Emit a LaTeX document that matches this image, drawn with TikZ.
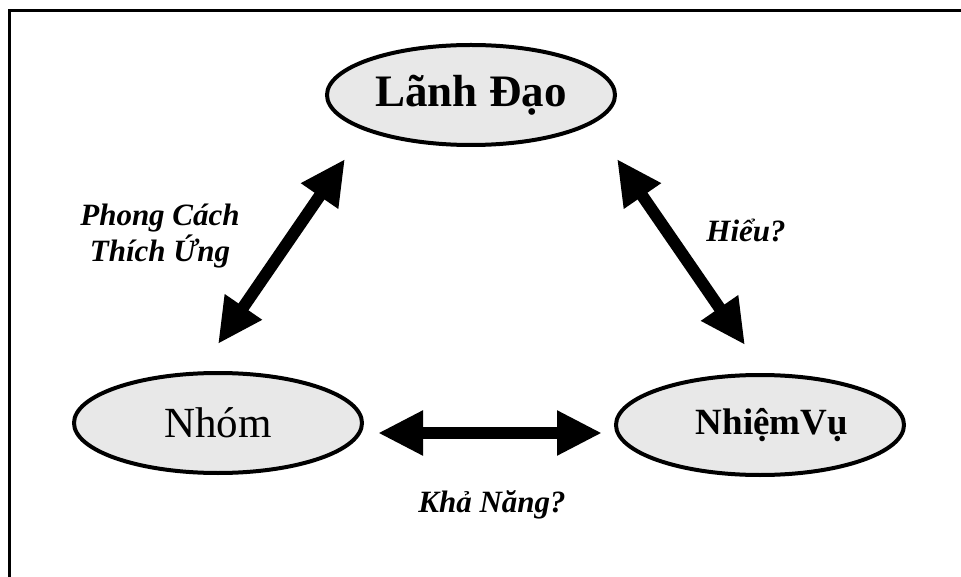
\documentclass[tikz,border=0pt]{standalone}
\usepackage{fontspec}
\setmainfont{Liberation Serif}
\usetikzlibrary{positioning, shapes.geometric, arrows.meta, calc}

\begin{document}
\begin{tikzpicture}[
				x=1pt, y=-1pt,
				role/.style={ellipse, draw, line width=4pt, fill=black!9,
					minimum width=288pt, minimum height=100pt, inner sep=0pt},
				dbl/.style={line width=12pt,
					{Triangle[length=45pt,width=42pt]}-{Triangle[length=45pt,width=42pt]}},
				lbl/.style={font=\fontsize{31}{36}\selectfont\bfseries\itshape, align=center}
				]
				\useasboundingbox (0,0) rectangle (961,577);
				% frame
				\draw[line width=3pt] (9,577) -- (9,11) -- (961,11);
				% the three ellipses
				\node[role, font=\fontsize{45}{50}\selectfont\bfseries] (lanhdao) at (471,95) {Lãnh Đạo};
				\node[role, font=\fontsize{43}{48}\selectfont] (nhom) at (218,423) {Nhóm};
				\node[role, font=\fontsize{37}{42}\selectfont\bfseries] (nhiemvu) at (760,425) {\hspace*{24pt}NhiệmVụ};
				% arrow ends
				\coordinate (l1) at ($(lanhdao.south)+(-126,12)$);
				\coordinate (l2) at ($(nhom.north)+(0,-27)$);
				\coordinate (r1) at ($(lanhdao.south)+(146,12)$);
				\coordinate (r2) at ($(nhiemvu.north)+(-15,-28)$);
				\coordinate (h1) at ($(nhom.east)+(14,10)$);
				\coordinate (h2) at ($(nhiemvu.west)+(-12,8)$);
				\draw[dbl] (l1) -- (l2);
				\draw[dbl] (r1) -- (r2);
				\draw[dbl] (h1) -- (h2);
				% labels
				\node[lbl] (phongcach) at (160,236) {Phong Cách\\Thích Ứng};
				\node[lbl, anchor=base] (hieu) at (746,242) {Hiểu?};
				\node[lbl, anchor=base] (khanang) at (492,512) {Khả Năng?};
			\end{tikzpicture}
\end{document}
